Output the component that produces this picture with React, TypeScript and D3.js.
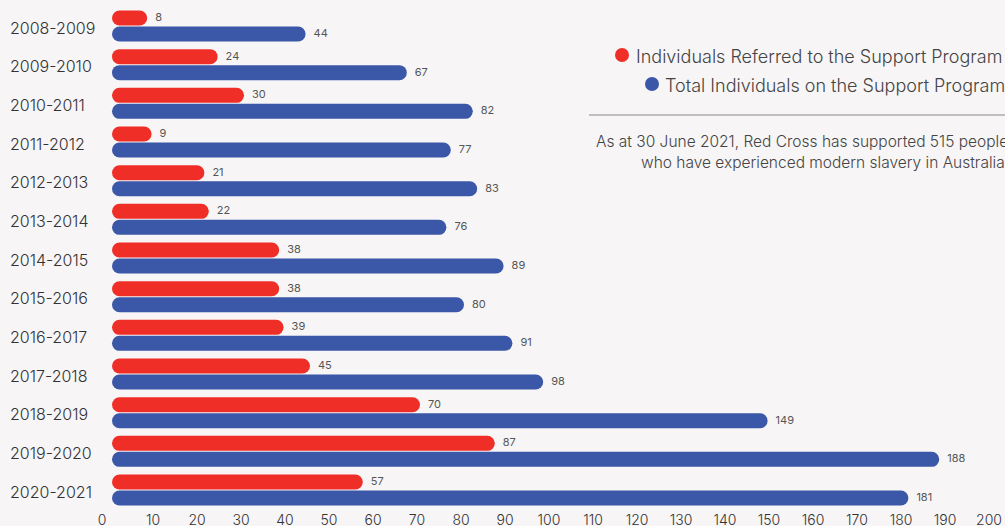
import { useEffect, useRef } from "react"
import * as d3 from "d3"

const categories = [
  "2008-2009", "2009-2010", "2010-2011", "2011-2012", "2012-2013", "2013-2014", "2014-2015",
  "2015-2016", "2016-2017", "2017-2018", "2018-2019", "2019-2020", "2020-2021",
]
const referred = [8, 24, 30, 9, 21, 22, 38, 38, 39, 45, 70, 87, 57]
const total = [44, 67, 82, 77, 83, 76, 89, 80, 91, 98, 149, 188, 181]
const xTicks = d3.range(0, 201, 10)
const legendLabels = ["Individuals Referred to the Support Program", "Total Individuals on the Support Program"]
const noteLines = [
  "As at 30 June 2021, Red Cross has supported 515 people",
  "who have experienced modern slavery in Australia.",
]

const RED = "#ef2f27"
const BLUE = "#3b57a7"
const FONT = "Inter, 'Noto Sans', sans-serif"

export default function App() {
  const svgRef = useRef<SVGSVGElement>(null)

  useEffect(() => {
    if (!svgRef.current) return
    const width = 1005
    const height = 526
    const barH = 15

    const svg = d3.select(svgRef.current)
    svg.selectAll("*").remove()
    svg.attr("width", width).attr("height", height)

    svg.append("rect").attr("width", width).attr("height", height).attr("fill", "#f7f5f6")

    const x = d3.scaleLinear().domain([0, 200]).range([112, 992])
    const y = d3.scaleBand<string>().domain(categories).range([10.5, 10.5 + 13 * 38.67])

    // category labels
    svg
      .append("g")
      .selectAll("text")
      .data(categories)
      .join("text")
      .attr("x", 10)
      .attr("y", (d) => (y(d) as number) + 17)
      .attr("dominant-baseline", "central")
      .attr("font-family", FONT)
      .attr("font-size", "16px")
      .attr("font-weight", 300)
      .attr("fill", "#333")
      .text((d) => d)

    const drawSeries = (vals: number[], color: string, off: number) => {
      const g = svg.append("g")
      g.selectAll("rect")
        .data(vals)
        .join("rect")
        .attr("x", x(0))
        .attr("y", (_, i) => (y(categories[i]) as number) + off)
        .attr("width", (d) => x(d) - x(0))
        .attr("height", barH)
        .attr("rx", barH / 2)
        .attr("fill", color)
      g.selectAll("text")
        .data(vals)
        .join("text")
        .attr("x", (d) => x(d) + 8)
        .attr("y", (_, i) => (y(categories[i]) as number) + off + barH / 2 - 1)
        .attr("dominant-baseline", "central")
        .attr("font-family", FONT)
        .attr("font-size", "11px")
        .attr("fill", "#555")
        .text((d) => d)
    }
    drawSeries(referred, RED, 0)
    drawSeries(total, BLUE, 16)

    // x axis labels
    svg
      .append("g")
      .selectAll("text")
      .data(xTicks)
      .join("text")
      .attr("x", (d) => (d === 0 ? x(d) - 10 : x(d) - 3))
      .attr("y", 519)
      .attr("text-anchor", "middle")
      .attr("dominant-baseline", "central")
      .attr("font-family", FONT)
      .attr("font-size", "14px")
      .attr("font-weight", 300)
      .attr("fill", "#333")
      .text((d) => d)

    // legend
    const legend = svg.append("g")
    const legendPos = [
      { cx: 622, cy: 55, tx: 636, color: RED },
      { cx: 652, cy: 84, tx: 665, color: BLUE },
    ]
    legendPos.forEach((p, i) => {
      legend.append("circle").attr("cx", p.cx).attr("cy", p.cy).attr("r", 7).attr("fill", p.color)
      legend
        .append("text")
        .attr("x", p.tx)
        .attr("y", p.cy + 1)
        .attr("dominant-baseline", "central")
        .attr("font-family", FONT)
        .attr("font-size", "18px")
        .attr("font-weight", 300)
        .attr("fill", "#444")
        .text(legendLabels[i])
    })

    svg.append("line").attr("x1", 589).attr("x2", width).attr("y1", 115).attr("y2", 115).attr("stroke", "#888")

    const noteX = [596, 641]
    noteLines.forEach((t, i) => {
      svg
        .append("text")
        .attr("x", noteX[i])
        .attr("y", 141 + i * 21)
        .attr("dominant-baseline", "central")
        .attr("font-family", FONT)
        .attr("font-size", "15.5px")
        .attr("font-weight", 300)
        .attr("fill", "#444")
        .text(t)
    })
  }, [])

  return (
    <div style={{ position: "absolute", left: 0, top: 0 }}>
      <svg ref={svgRef} style={{ display: "block" }} />
    </div>
  )
}
